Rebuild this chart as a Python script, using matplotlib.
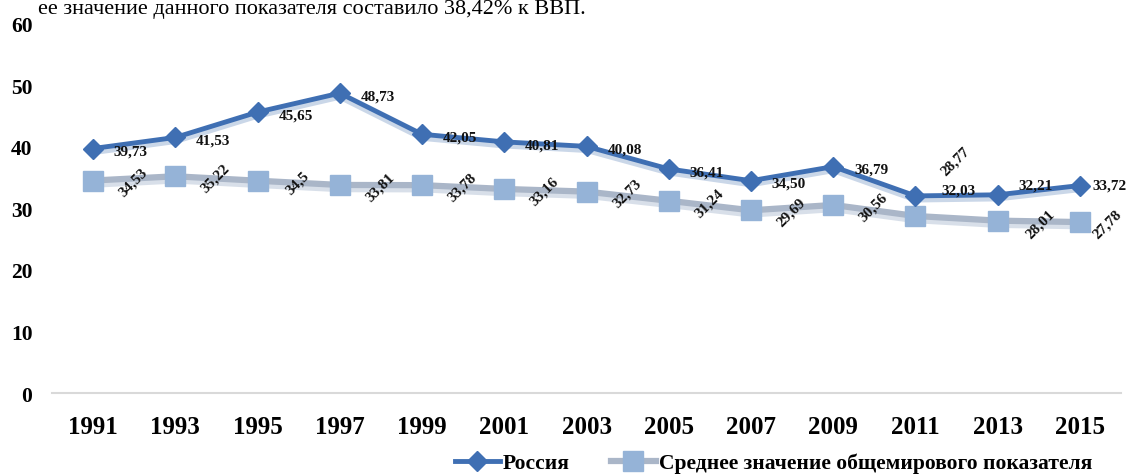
import matplotlib.pyplot as plt
import matplotlib.patheffects as pe

years = ["1991", "1993", "1995", "1997", "1999", "2001", "2003",
         "2005", "2007", "2009", "2011", "2013", "2015"]
russia = [39.73, 41.53, 45.65, 48.73, 42.05, 40.81, 40.08,
          36.41, 34.50, 36.79, 32.03, 32.21, 33.72]
world = [34.53, 35.22, 34.5, 33.81, 33.78, 33.16, 32.73,
         31.24, 29.69, 30.56, 28.77, 28.01, 27.78]
yticks = [0, 10, 20, 30, 40, 50, 60]

# label offsets in points
ru_off = [(15, -2)] * 10 + [(19, 4), (15, 7), (9, 0)]
w_off = [(29, -1)] * 10 + [(29, 40), (31, -2), (20, -1)]

plt.rcParams['font.family'] = ['Liberation Serif', 'DejaVu Serif']

fig = plt.figure(figsize=(11.29, 4.77), dpi=100)
ax = fig.add_axes([0.046, 0.174, 0.947, 0.774])
x = list(range(len(years)))

# soft shadows under the lines
sh = [pe.SimpleLineShadow(offset=(0, -3), shadow_color='#b9c6d8', alpha=0.55)]
ax.plot(x, world, color='#aab6c8', lw=4.5, path_effects=sh + [pe.Normal()], zorder=2)
ax.plot(x, russia, color='#3f6fb3', lw=3.5,
        path_effects=[pe.SimpleLineShadow(offset=(0, -3), shadow_color='#9fb6d6', alpha=0.55), pe.Normal()],
        zorder=3)
ax.plot(x, world, color='#aab6c8', lw=4.5, marker='s', ms=14, ls='none',
        mfc='#95b3d7', mec='#95b3d7', zorder=2.5)
ax.plot(x, russia, color='#3f6fb3', lw=3.5, marker='D', ms=10, ls='none',
        mfc='#3f6fb3', mec='#3f6fb3', zorder=3.5)

for i in x:
    ax.annotate(f"{russia[i]:.2f}".replace('.', ','), (i, russia[i]), xytext=ru_off[i],
                textcoords='offset points', ha='left', va='center',
                fontsize=11, fontweight='bold', color='#111111', zorder=5)
    ax.annotate(f"{world[i]:g}".replace('.', ','), (i, world[i]), xytext=w_off[i],
                textcoords='offset points', ha='center', va='center', rotation=45,
                fontsize=11, fontweight='bold', color='#111111', zorder=5)

ax.set_xlim(-0.5, len(years) - 0.5)
ax.set_ylim(0, 60)
ax.set_xticks(x)
ax.set_xticklabels(years, fontsize=18, fontweight='bold')
ax.set_yticks(yticks)
ax.set_yticklabels([str(v) for v in yticks], fontsize=15.5, fontweight='bold')
ax.tick_params(length=0)
ax.tick_params(axis='y', pad=14)
ax.tick_params(axis='x', pad=16)
for s in ['top', 'right', 'left']:
    ax.spines[s].set_visible(False)
ax.spines['bottom'].set_color('#d9d9d9')
ax.spines['bottom'].set_linewidth(1.5)

h_ru, = ax.plot([], [], color='#3f6fb3', lw=3.5, marker='D', ms=10, mfc='#3f6fb3', mec='#3f6fb3')
h_w, = ax.plot([], [], color='#aab6c8', lw=4.5, marker='s', ms=14, mfc='#95b3d7', mec='#95b3d7')
fig.legend([h_ru, h_w], ['Россия', 'Среднее значение общемирового показателя'],
           loc='lower right', bbox_to_anchor=(0.985, -0.035), ncol=2,
           frameon=False, prop={'size': 15.5, 'weight': 'bold'}, handlelength=2.1,
           columnspacing=1.9, handletextpad=0.15)

fig.text(38 / 1129, 1.0, "ее значение данного показателя составило 38,42% к ВВП.",
         fontsize=16, va='top', ha='left')

fig.savefig('out.png', dpi=100)
